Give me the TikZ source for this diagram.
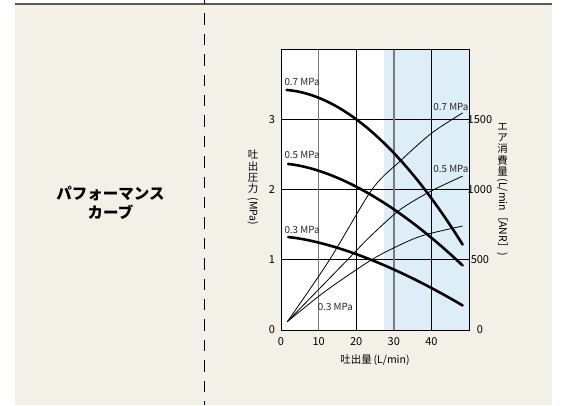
\documentclass[tikz,border=0pt]{standalone}
\usepackage{fontspec}
\setmainfont{Noto Sans CJK JP}
\definecolor{beige}{HTML}{F3F0E8}
\definecolor{topgray}{HTML}{5A5A5A}
\definecolor{skyshade}{HTML}{DDEEF9}
\definecolor{gridgray}{HTML}{7A7A7A}
\begin{document}
\begin{tikzpicture}[x=1pt,y=-1pt,
  thickcurve/.style={line width=2.6pt, line cap=round},
  thincurve/.style={line width=0.8pt},
  blackgrid/.style={line width=0.9pt},
  graygrid/.style={gridgray, line width=1.5pt},
  ticklab/.style={inner sep=0, font=\fontsize{11}{11}\selectfont},
  curvelab/.style={inner sep=0, anchor=west, font=\fontsize{9.8}{10}\selectfont, text=black!85},
  vcjk/.style={inner sep=0, align=center, font=\fontsize{10.5}{11.3}\selectfont},
  vlat/.style={inner sep=0, rotate=-90, anchor=west, font=\fontsize{10.5}{11}\selectfont},
]
\useasboundingbox (0,0) rectangle (561,405);
\fill[white] (0,0) rectangle (561,405);
\fill[beige] (15,4) rectangle (552,405);
\coordinate (tlL) at (15,4);
\coordinate (tlR) at (552,4);
\draw[topgray, line width=1.3pt] (tlL) -- (tlR);
\coordinate (tick0) at (204.3,0);
\coordinate (tick1) at (204.3,4);
\draw[line width=1pt] (tick0) -- (tick1);
\coordinate (dtop) at (204.3,13.3);
\coordinate (dbot) at (204.3,405);
\draw[line width=1pt, dash pattern=on 11.5pt off 8.9pt] (dtop) -- (dbot);

\node[inner sep=0, align=center, font=\bfseries\fontsize{15.5}{18.5}\selectfont] (title) at (110.5,203) {パフォーマンス\\カーブ};

\begin{scope}[shift={(281,330)}, x=3.76pt, y=70.25pt]
  \fill[white] (0,0) rectangle (50,4);
  \fill[skyshade] (27.4,0) rectangle (50,4);
  \foreach \v in {1,2,3} \draw[blackgrid] (0,\v) -- (50,\v);
  \foreach \u in {20,40} \draw[blackgrid] (\u,0) -- (\u,4);
  \foreach \u in {10,30} \draw[graygrid] (\u,0) -- (\u,4);
  % air consumption (thin)
  \draw[thincurve] plot[smooth, tension=0.5] coordinates {(1.7,0.12) (12.8,0.99) (24.2,2.0) (31.6,2.40) (40,2.80) (48.3,3.09)};
  \draw[thincurve] plot[smooth, tension=0.5] coordinates {(1.7,0.12) (17.7,1.0) (23.7,1.33) (31.6,1.71) (40,1.98) (48.3,2.19)};
  \draw[thincurve] plot[smooth, tension=0.5] coordinates {(1.7,0.12) (12,0.56) (24.1,1.0) (31.6,1.21) (38,1.35) (48.3,1.48)};
  % discharge pressure (thick)
  \draw[thickcurve] plot[domain=1.5:48.3, samples=60, smooth] (\x,{3.42-0.42*(\x/20)^1.88});
  \draw[thickcurve] plot[domain=1.9:48.3, samples=60, smooth] (\x,{2.37-0.33*(\x/20)^1.68});
  \draw[thickcurve] plot[domain=1.9:48.3, samples=60, smooth] (\x,{1.33-0.25*(\x/20)^1.55});
  % frame
  \draw[line width=1pt] (0,0) rectangle (50,4);
  % curve labels
  \node[curvelab] (l7a) at (0.88,3.535) {0.7 MPa};
  \node[curvelab] (l5a) at (0.88,2.49) {0.5 MPa};
  \node[curvelab] (l3a) at (0.88,1.428) {0.3 MPa};
  \node[curvelab] (l3b) at (9.76,0.332) {0.3 MPa};
  \node[curvelab] (l7b) at (40.5,3.18) {0.7 MPa};
  \node[curvelab] (l5b) at (40.5,2.29) {0.5 MPa};
  % ticks
  \foreach \v in {0,1,2,3} \node[ticklab, xshift=-9pt] (yl\v) at (0,\v) {\v};
  \foreach \u in {0,10,20,30,40} \node[ticklab, yshift=-11.7pt] (xl\u) at (\u,0) {\u};
  \node[ticklab] (r0) at (52.9,0) {0};
  \node[ticklab] (r1) at (52.9,1) {500};
  \node[ticklab] (r2) at (52.9,2) {1000};
  \node[ticklab] (r3) at (52.9,3) {1500};
  \node[inner sep=0, font=\fontsize{10.5}{11}\selectfont] (xlab) at (25,-0.427) {吐出量\,(L/min)};
\end{scope}

\node[vcjk, anchor=north] (ylabA) at (253,150) {吐\\出\\圧\\力};
\node[vlat] (ylabB) at (253,197.5) {(MPa)};
\node[vcjk, anchor=north] (y2labA) at (502.5,123) {エ\\ア\\消\\費\\量};
\node[vlat] (y2labB) at (502.5,178.5) {(L/min［ANR］)};
\end{tikzpicture}
\end{document}
